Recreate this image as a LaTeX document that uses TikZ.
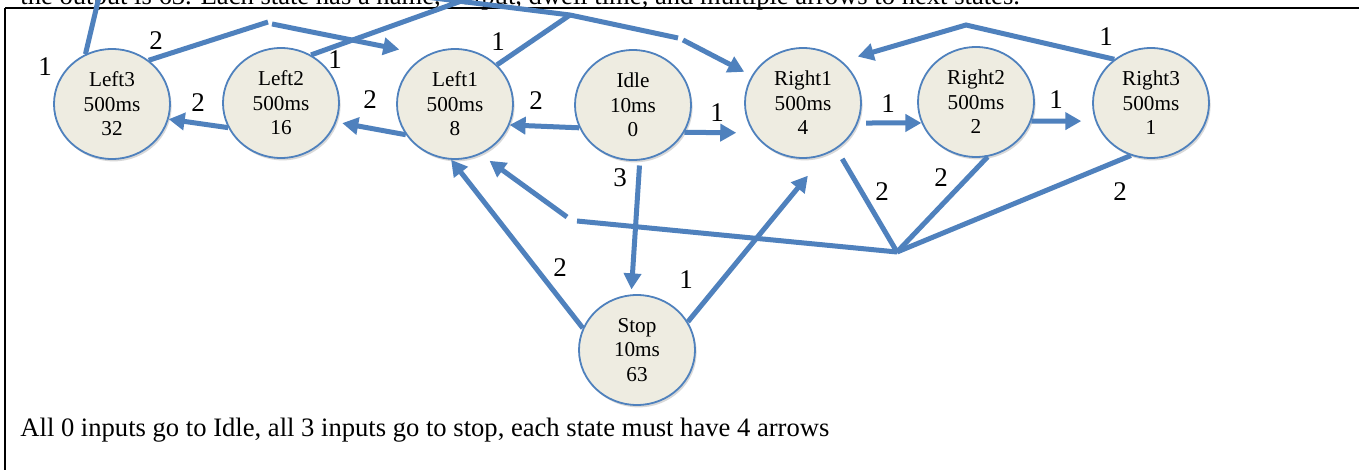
\documentclass[tikz,border=0pt]{standalone}
\usepackage{fontspec}
\setmainfont{Liberation Serif}
\usetikzlibrary{shapes.geometric,arrows.meta,shadows}
\definecolor{lineblue}{HTML}{4F81BD}
\definecolor{statefill}{HTML}{EEECE1}
\begin{document}
\begin{tikzpicture}[x=0.5pt,y=-0.5pt,
  state/.style={ellipse, draw=lineblue, line width=0.9pt, fill=statefill,
    minimum width=58pt, minimum height=55pt, inner sep=0pt, align=center,
    font=\fontsize{10.6}{12.25}\selectfont,
    drop shadow={shadow xshift=0.8pt,shadow yshift=-1.2pt,opacity=0.25,fill=black!60}},
  lab/.style={inner sep=0pt, font=\fontsize{13.5}{16}\selectfont},
  line/.style={draw=lineblue, line width=2.5pt},
  conn/.style={line, -{Triangle[length=8pt,width=8.5pt]}},
  frame/.style={draw=black, line width=0.8pt}]
\useasboundingbox (0,0) rectangle (1359,470);
\clip (0,0) rectangle (1359,470);
\fill[white] (0,0) rectangle (1359,470);
% frame and texts
\draw[frame] (5,8) -- (5,470);
\draw[frame] (5,8) -- (1359,8);
\node[anchor=base west, inner sep=0pt, font=\fontsize{13.3}{16}\selectfont] (toptext) at (20,5)
  {the output is 63. Each state has a name, output, dwell time, and multiple arrows to next states.};
\node[anchor=base west, inner sep=0pt, font=\fontsize{13.3}{16}\selectfont] (note) at (20,436)
  {All 0 inputs go to Idle, all 3 inputs go to stop, each state must have 4 arrows};
% states
\node[state] (L3) at (112,104) {Left3\\500ms\\32};
\node[state] (L2) at (281,103) {Left2\\500ms\\16};
\node[state] (L1) at (455,104) {Left1\\500ms\\8};
\node[state] (Idle) at (633,105) {Idle\\10ms\\0};
\node[state] (R1) at (803,103) {Right1\\500ms\\4};
\node[state] (R2) at (976,102) {Right2\\500ms\\2};
\node[state] (R3) at (1151,103) {Right3\\500ms\\1};
\node[state] (Stop) at (637,350) {Stop\\10ms\\63};
% helper coordinates
\coordinate (TA) at (103,-20);
\coordinate (M1) at (268,22);
\coordinate (M2) at (272,24);
\coordinate (TD) at (520,-20);
\coordinate (P) at (570,15);
\coordinate (TF) at (290,-20);
\coordinate (M3) at (678,38);
\coordinate (M4) at (683,40);
\coordinate (Q) at (966,25);
\coordinate (J) at (897,252);
\coordinate (K1) at (577,221);
\coordinate (K2) at (567,217);
% top connectors
\draw[line] (L3.118) -- (TA);
\draw[line] (L3.50) -- (M1);
\draw[conn, shorten >=14pt] (M2) -- (L1.120);
\draw[line] (L2.58) -- (TD);
\draw[line] (L1.43) -- (P);
\draw[line] (TF) -- (P) -- (M3);
\draw[conn, shorten >=4.2pt] (M4) -- (R1.152);
\draw[conn, shorten >=8.2pt] (R3.130) -- (Q) -- (R1.47);
% row connectors
\draw[conn] (Idle.203) -- (L1.339);
\draw[conn, shorten >=3pt] (L1.212) -- (L2.341);
\draw[conn] (L2.205) -- (L3.345);
\draw[conn, shorten >=8.5pt] (Idle.332) -- (R1.211);
\draw[conn, shorten <=4pt] (R1.340) -- (R2.201);
\draw[conn, shorten >=7pt] (R2.341) -- (R3.198);
% lower connectors
\draw[conn, shorten <=2.5pt, shorten >=2.5pt] (Idle.277) -- (Stop.96);
\draw[conn] (Stop.158) -- (L1.266);
\draw[conn, shorten >=13.5pt] (Stop.29) -- (R1.293);
\draw[line, shorten <=5.7pt] (R1.306) -- (J);
\draw[line] (R2.282) -- (J);
\draw[line] (R3.249) -- (J);
\draw[line] (J) -- (K1);
\draw[conn, shorten >=5.5pt] (K2) -- (L1.297);
% labels
\node[lab] (a1) at (45,67) {1};
\node[lab] (a2) at (156,41) {2};
\node[lab] (a3) at (335,60) {1};
\node[lab] (a4) at (498,42) {1};
\node[lab] (a5) at (198,103) {2};
\node[lab] (a6) at (370,100) {2};
\node[lab] (a7) at (536,101) {2};
\node[lab] (a8) at (717,113) {1};
\node[lab] (a9) at (888,104) {1};
\node[lab] (a10) at (1056,100) {1};
\node[lab] (a11) at (620,178) {3};
\node[lab] (a12) at (560,268) {2};
\node[lab] (a13) at (686,280) {1};
\node[lab] (a14) at (882,192) {2};
\node[lab] (a15) at (941,178) {2};
\node[lab] (a16) at (1120,192) {2};
\node[lab] (a17) at (1106,37) {1};
\end{tikzpicture}
\end{document}
